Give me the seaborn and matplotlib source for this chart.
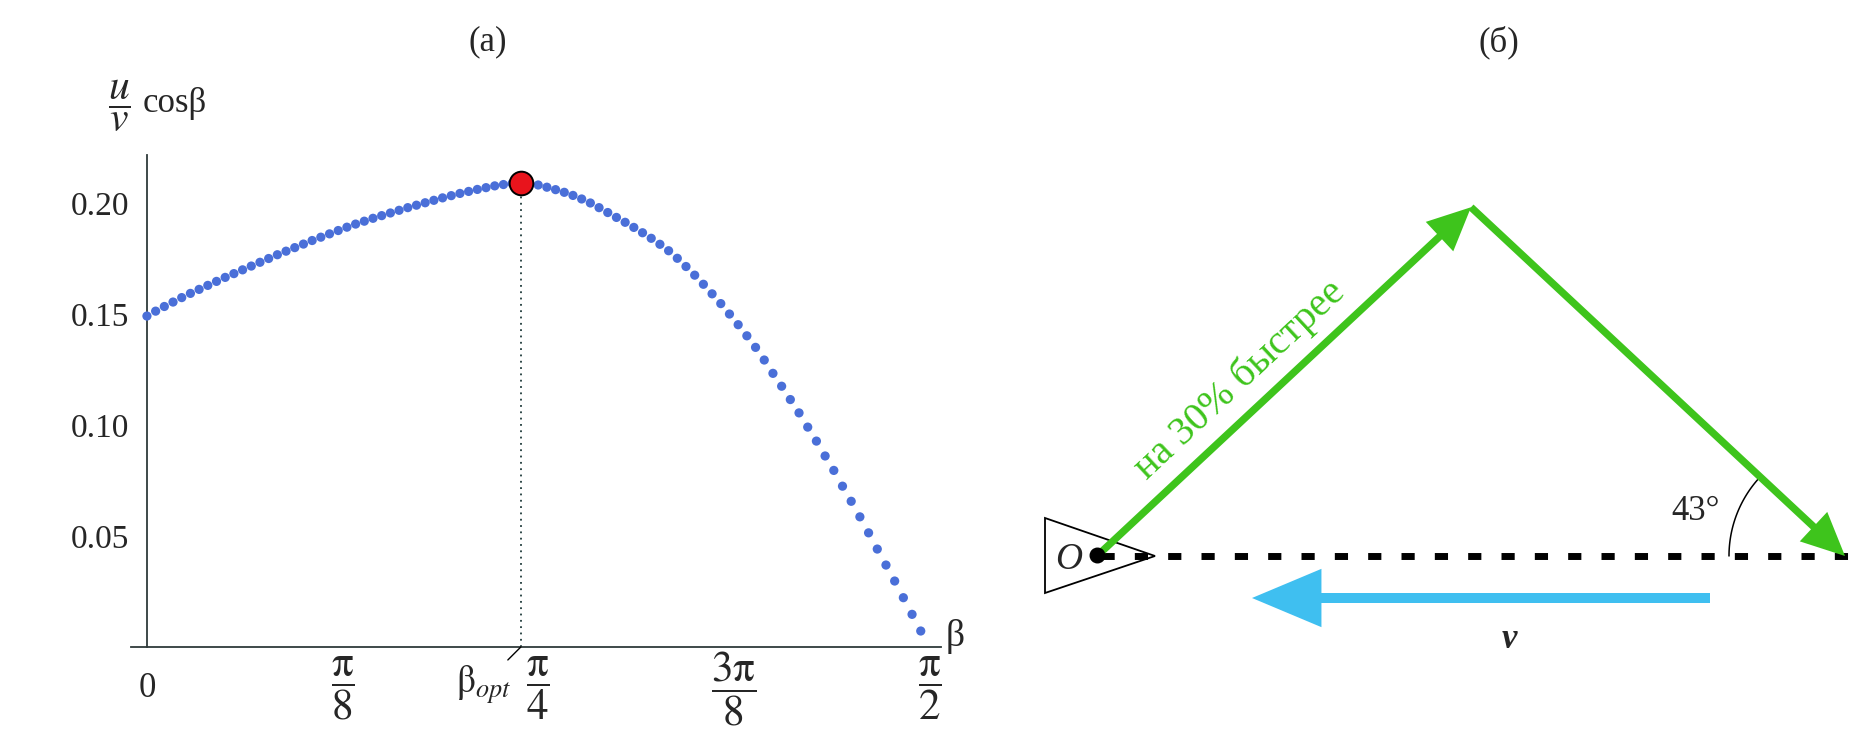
import numpy as np
import pandas as pd
import matplotlib
matplotlib.use('Agg')
import matplotlib.pyplot as plt
from matplotlib.patches import FancyArrowPatch, Polygon, ArrowStyle
from matplotlib.ticker import MultipleLocator
import seaborn as sns

# panel (а): u/v * cos(beta), one dot per degree
beta_deg = list(range(90))
ratio_cos = [
    0.1490, 0.1512, 0.1533, 0.1553, 0.1573, 0.1592, 0.1610, 0.1628, 0.1646, 0.1664,
    0.1681, 0.1698, 0.1715, 0.1732, 0.1749, 0.1766, 0.1782, 0.1798, 0.1814, 0.1830,
    0.1845, 0.1860, 0.1875, 0.1890, 0.1904, 0.1917, 0.1930, 0.1942, 0.1954, 0.1966,
    0.1978, 0.1989, 0.2000, 0.2011, 0.2022, 0.2032, 0.2042, 0.2051, 0.2060, 0.2068,
    0.2076, 0.2082, 0.2087, 0.2090, 0.2087, 0.2080, 0.2070, 0.2059, 0.2047, 0.2033,
    0.2017, 0.1999, 0.1978, 0.1956, 0.1934, 0.1912, 0.1889, 0.1865, 0.1840, 0.1813,
    0.1784, 0.1750, 0.1713, 0.1674, 0.1633, 0.1590, 0.1546, 0.1499, 0.1451, 0.1401,
    0.1349, 0.1292, 0.1232, 0.1174, 0.1114, 0.1054, 0.0990, 0.0927, 0.0860, 0.0795,
    0.0724, 0.0656, 0.0586, 0.0514, 0.0441, 0.0369, 0.0297, 0.0222, 0.0147, 0.0072,
]
beta_opt_deg = 43
ratio_cos_max = 0.2090

x_ticks = [0, np.pi / 8, np.pi / 4, 3 * np.pi / 8, np.pi / 2]
x_tick_labels = ['0', r'$\dfrac{\mathrm{\pi}}{8}$', r'$\dfrac{\mathrm{\pi}}{4}$',
                 r'$\dfrac{3\mathrm{\pi}}{8}$', r'$\dfrac{\mathrm{\pi}}{2}$']
y_ticks = [0.05, 0.10, 0.15, 0.20]
y_tick_labels = ['0.05', '0.10', '0.15', '0.20']

# panel (б): scheme, in figure pixels
obs_x, obs_y = 1097, 556
path_len = 748
path_angle = 43
flow_x = [1710, 1252]
flow_y = 598
faster_text = 'на 30% быстрее'
angle_text = '43°'

green = '#3ec41c'
blue_dot = '#4a6fd8'
sky = '#3fbff0'

sns.set_style('white')
plt.rcParams['font.family'] = ['Liberation Serif', 'DejaVu Serif']
plt.rcParams['mathtext.fontset'] = 'stix'

W, H = 1868, 748
fig = plt.figure(figsize=(W / 100, H / 100), dpi=100)

# ---------- (а) ----------
ax = fig.add_axes([131 / W, (H - 647) / H, 810 / W, 492 / H])
df = pd.DataFrame({'beta': np.deg2rad(beta_deg), 'val': ratio_cos})
sns.scatterplot(data=df, x='beta', y='val', ax=ax, s=44, color=blue_dot,
                edgecolor='none', linewidth=0, zorder=3)
b_opt = np.deg2rad(beta_opt_deg)
ax.plot([b_opt, b_opt], [0, ratio_cos_max], ls=(0, (1, 2.5)), color='#1f3a3a', lw=1.3, zorder=2)
sns.scatterplot(x=[b_opt], y=[ratio_cos_max], ax=ax, s=290, color='#e8141c',
                edgecolor='black', linewidth=1.4, zorder=5)

ax.set_xlim(-0.032, 1.594)
ax.set_ylim(0, 0.2215)
ax.set_xlabel('')
ax.set_ylabel('')
for s in ['top', 'right']:
    ax.spines[s].set_visible(False)
ax.spines['left'].set_position(('data', 0))
for s in ['left', 'bottom']:
    ax.spines[s].set_color('#2f3a3a')
    ax.spines[s].set_linewidth(1.3)

ax.set_xticks(x_ticks, labels=x_tick_labels, va='center')
ax.set_yticks(y_ticks, labels=y_tick_labels)
ax.yaxis.set_minor_locator(MultipleLocator(0.01))
ax.tick_params(axis='x', which='major', direction='in', length=7, width=1,
               color='#2f3a3a', pad=30, labelsize=31)
ax.tick_params(axis='y', which='major', direction='in', length=7, width=1,
               color='#2f3a3a', pad=13, labelsize=24)
ax.tick_params(axis='y', which='minor', direction='in', length=4, width=0.8, color='#2f3a3a')
ax.get_xticklabels()[0].set_fontsize(25)

ax.annotate(r'$\mathrm{\beta}_{\mathit{opt}}$', xy=(b_opt, 0), xytext=(-27, -27),
            textcoords='offset points', ha='center', va='center', fontsize=27,
            arrowprops=dict(arrowstyle='-', color='black', lw=1, shrinkA=0, shrinkB=0))

fig.text(955 / W, 1 - 637 / H, 'β', fontsize=27, ha='center', va='center')
fig.text(119 / W, 1 - 106 / H, r'$\dfrac{u}{v}$', fontsize=30, ha='center', va='center')
fig.text(143 / W, 1 - 104 / H, 'cosβ', fontsize=25, ha='left', va='center')

fig.text(488 / W, 1 - 42 / H, '(а)', fontsize=25, ha='center', va='center')
fig.text(1499 / W, 1 - 42 / H, '(б)', fontsize=25, ha='center', va='center')

# ---------- (б) ----------
ax2 = fig.add_axes([1000 / W, 0, 868 / W, 1])
ax2.set_xlim(1000, 1868)
ax2.set_ylim(H, 0)
ax2.axis('off')

half = path_len / 2
apex = (obs_x + half, obs_y - half * np.tan(np.deg2rad(path_angle)))
end = (obs_x + path_len, obs_y)

ax2.add_patch(Polygon([(1045, 518), (1045, 593), (1155, 556)], closed=True,
                      fc='white', ec='black', lw=1.3, zorder=1))
ax2.plot([obs_x + 4, end[0] + 3], [obs_y, obs_y], color='black', lw=5,
         dashes=(1.9, 2.9), zorder=2)
ax2.scatter([obs_x], [obs_y - 1], s=110, color='black', zorder=5)
ax2.text(1069, 560, 'O', style='italic', fontsize=27, ha='center', va='center')

g_style = ArrowStyle.Simple(head_length=31, head_width=29, tail_width=5.3)
for a, b in [((obs_x, obs_y), apex), (apex, end)]:
    ax2.add_patch(FancyArrowPatch(a, b, arrowstyle=g_style, mutation_scale=1,
                                  color=green, lw=0, shrinkA=0, shrinkB=0, zorder=3))

b_style = ArrowStyle.Simple(head_length=50, head_width=42, tail_width=7.2)
ax2.add_patch(FancyArrowPatch((flow_x[0], flow_y), (flow_x[1], flow_y), arrowstyle=b_style,
                              mutation_scale=1, color=sky, lw=0, shrinkA=0, shrinkB=0, zorder=3))

theta = np.linspace(0, np.deg2rad(path_angle), 60)
r = 116
ax2.plot(end[0] - r * np.cos(theta), end[1] - r * np.sin(theta), color='black', lw=1.1, zorder=2)
ax2.text(1696, 511, angle_text, fontsize=25, ha='center', va='center')

ax2.text(1240, 380, faster_text, color=green, fontsize=29, rotation=path_angle,
         rotation_mode='anchor', ha='center', va='center')
ax2.text(1509, 640, 'v', fontsize=25, style='italic', weight='bold', ha='center', va='center')

fig.savefig('out.png', dpi=100)
